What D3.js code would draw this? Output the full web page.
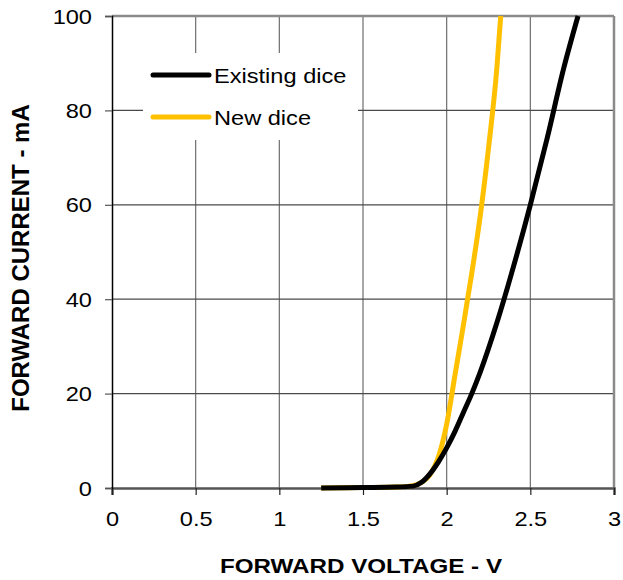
<!DOCTYPE html>
<html>
<head>
<meta charset="utf-8">
<script src="https://cdn.jsdelivr.net/npm/d3@7"></script>
<style>
  body { margin: 0; background: #fff; }
  text { font-family: "Liberation Sans", Arial, sans-serif; }
</style>
</head>
<body>
<div class="chart"></div>
<script>
// forward voltage (V) vs forward current (mA)
var existingV = [1.25, 1.5, 1.7, 1.8, 1.85, 1.9, 1.95, 2.0, 2.05, 2.1, 2.15, 2.2, 2.3, 2.4, 2.5, 2.6, 2.7, 2.785];
var existingI = [0, 0.1, 0.2, 0.4, 1.2, 3, 5.5, 8.5, 12, 16, 20, 24.5, 35, 47, 60, 74, 89, 100];
var newV = [1.25, 1.5, 1.7, 1.8, 1.85, 1.9, 1.95, 2.0, 2.05, 2.1, 2.15, 2.2, 2.25, 2.3, 2.323];
var newI = [0, 0.1, 0.2, 0.5, 1.2, 2.8, 6.5, 13.5, 24, 34.5, 45.5, 57.5, 72, 89, 100];
var xTicks = [0, 0.5, 1, 1.5, 2, 2.5, 3];
var yTicks = [0, 20, 40, 60, 80, 100];

var series = [
  { name: 'Existing dice', color: '#000000', v: existingV, i: existingI },
  { name: 'New dice', color: '#FFC000', v: newV, i: newI }
];

var width = 623, height = 580;
var stretch = 1.18; // text in the original is a bit wider than tall
var svg = d3.select('.chart').append('svg')
            .attr('width', width)
            .attr('height', height);

var x = d3.scaleLinear().domain([0, 3]).range([112, 614]);
var y = d3.scaleLinear().domain([0, 100]).range([488, 16]);

// grid
svg.selectAll('.vgrid')
   .data(xTicks.slice(1, -1))
   .enter().append('line')
   .attr('x1', function(d) { return x(d); })
   .attr('x2', function(d) { return x(d); })
   .attr('y1', y(100))
   .attr('y2', y(0))
   .attr('stroke', '#6e6e6e')
   .attr('stroke-width', 1.2);

svg.selectAll('.hgrid')
   .data(yTicks.slice(1, -1))
   .enter().append('line')
   .attr('x1', x(0))
   .attr('x2', x(3))
   .attr('y1', function(d) { return y(d); })
   .attr('y2', function(d) { return y(d); })
   .attr('stroke', '#4a4a4a')
   .attr('stroke-width', 1.2);

// frame top + right
svg.append('line').attr('x1', x(0)).attr('x2', x(3)).attr('y1', y(100)).attr('y2', y(100))
   .attr('stroke', '#8a8a8a').attr('stroke-width', 2.5);
svg.append('line').attr('x1', x(3)).attr('x2', x(3)).attr('y1', y(100)).attr('y2', y(0))
   .attr('stroke', '#8a8a8a').attr('stroke-width', 2.5);

// axes
var xAxis = d3.axisBottom(x).tickValues(xTicks).tickSize(7).tickFormat(d3.format('~g'));
var yAxis = d3.axisLeft(y).tickValues(yTicks).tickSize(7);

var gx = svg.append('g').attr('transform', 'translate(0,' + y(0) + ')').call(xAxis);
var gy = svg.append('g').attr('transform', 'translate(' + x(0) + ',0)').call(yAxis);

gx.select('.domain').attr('stroke', '#555').attr('stroke-width', 2.5);
gy.select('.domain').attr('stroke', '#000').attr('stroke-width', 1.5);
gx.selectAll('.tick line').attr('stroke', '#222').attr('stroke-width', 1.2);
gy.selectAll('.tick line').attr('stroke', '#555').attr('stroke-width', 1.2);

svg.selectAll('.tick text')
   .attr('font-size', 20).attr('fill', '#000')
   .style('font-family', '"Liberation Sans", Arial, sans-serif');
gx.selectAll('.tick text')
  .attr('y', 0).attr('dy', 0)
  .attr('transform', 'translate(0,38) scale(' + stretch + ',1)');
gy.selectAll('.tick text')
  .attr('x', 0).attr('dy', '0.35em')
  .attr('transform', 'translate(-20,0) scale(' + stretch + ',1)');

// legend box
svg.append('rect').attr('x', 143).attr('y', 53).attr('width', 215).attr('height', 87)
   .attr('fill', '#fff');

// curves
var line = d3.line()
             .x(function(d) { return x(d[0]); })
             .y(function(d) { return y(d[1]); })
             .curve(d3.curveMonotoneX);

svg.selectAll('.curve')
   .data(series.slice().reverse())
   .enter().append('path')
   .attr('d', function(s) { return line(d3.zip(s.v, s.i)); })
   .attr('fill', 'none')
   .attr('stroke', function(s) { return s.color; })
   .attr('stroke-width', 5)
   .attr('stroke-linecap', 'butt');

// legend
var legend = svg.selectAll('.legend')
                .data(series)
                .enter().append('g')
                .attr('transform', function(s, idx) { return 'translate(153,' + (75 + idx * 42) + ')'; });

legend.append('line')
      .attr('x1', 0).attr('x2', 56)
      .attr('stroke', function(s) { return s.color; })
      .attr('stroke-width', 5)
      .attr('stroke-linecap', 'round');

legend.append('text')
      .attr('transform', 'translate(61,8) scale(' + stretch + ',1)')
      .attr('font-size', 20)
      .text(function(s) { return s.name; });

// axis titles
svg.append('text')
   .attr('transform', 'translate(361,573) scale(' + stretch + ',1)')
   .attr('text-anchor', 'middle')
   .attr('font-size', 20.5).attr('font-weight', 'bold')
   .text('FORWARD VOLTAGE - V');

svg.append('text')
   .attr('transform', 'translate(29,258) rotate(-90)')
   .attr('text-anchor', 'middle')
   .attr('font-size', 24).attr('font-weight', 'bold')
   .text('FORWARD CURRENT - mA');
</script>
</body>
</html>
